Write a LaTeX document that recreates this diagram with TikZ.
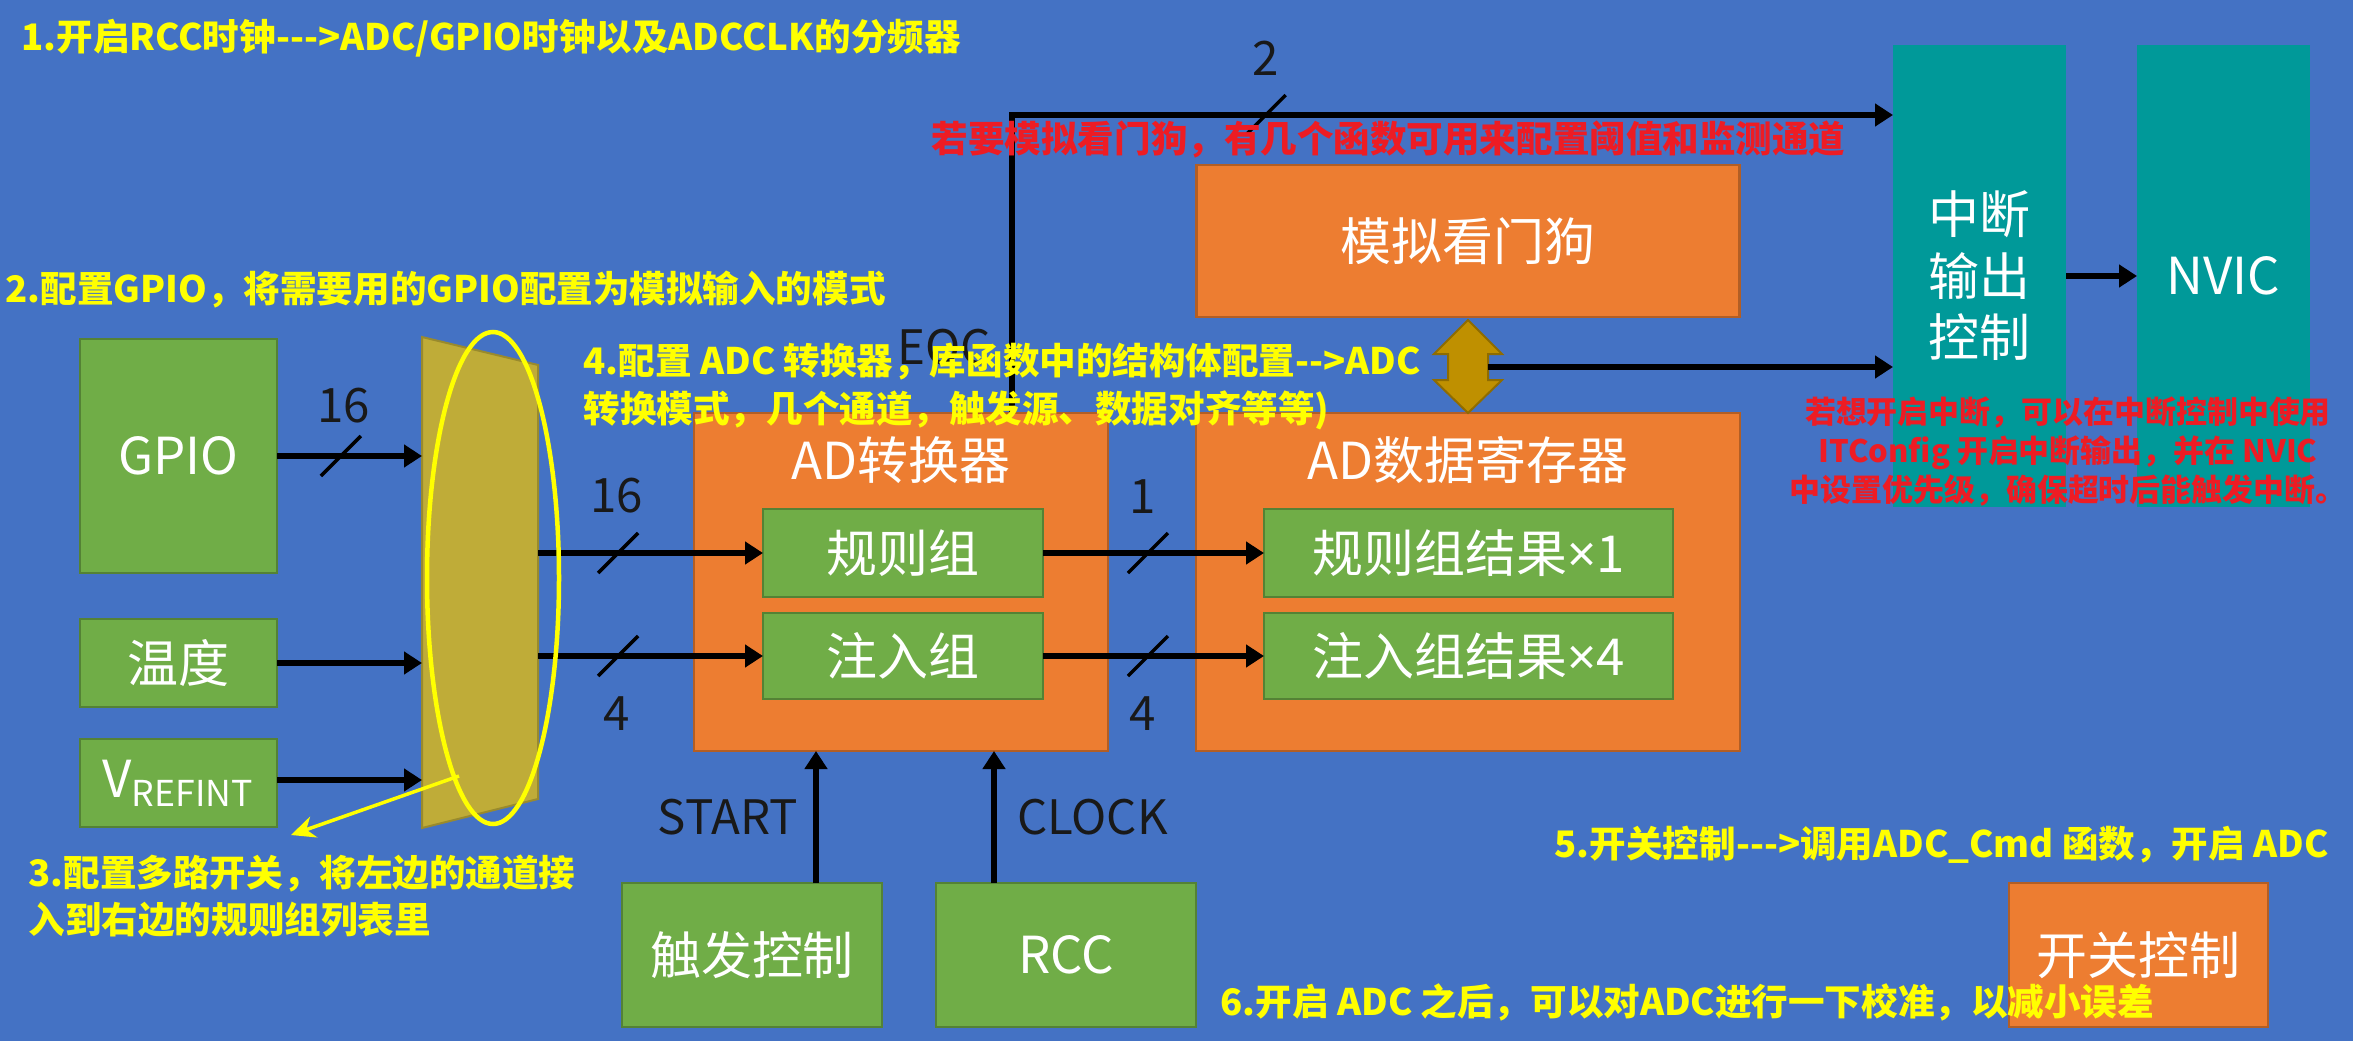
\documentclass[tikz,border=0pt]{standalone}
\usepackage{fontspec}
\newfontfamily\cjk{Noto Sans CJK SC}
\newfontfamily\latin{Noto Sans}
\usetikzlibrary{positioning,arrows.meta}

\definecolor{bgBlue}{RGB}{68,114,196}
\definecolor{boxGreen}{RGB}{112,173,71}
\definecolor{boxOrange}{RGB}{237,125,49}
\definecolor{boxTeal}{RGB}{0,153,153}
\definecolor{muxGold}{RGB}{191,172,56}
\definecolor{linkGold}{RGB}{191,144,0}
\definecolor{noteYellow}{RGB}{255,255,0}
\definecolor{noteRed}{RGB}{237,28,36}

\tikzset{
    block/.style={draw=#1!75!black, fill=#1, line width=0.25mm, text=white, inner sep=0pt, outer sep=0pt,
        align=center, font=\cjk\fontsize{14.5}{17.5}\selectfont},
    caption/.style={inner sep=0pt, text=white, font=\cjk\fontsize{14.5}{17.5}\selectfont},
    sig/.style={line width=0.6mm, -{Triangle[length=1.8mm,width=2.2mm]}},
    busnum/.style={inner sep=0pt, text=black!90, font=\cjk\fontsize{13.5}{16}\selectfont},
    note/.style={inner sep=0pt, anchor=west, align=left, font=\cjk\bfseries\fontsize{10.4}{13.4}\selectfont},
    busmark/.pic={\draw[line width=0.35mm, -] (-2mm,-2mm) -- (2mm,2mm);}
}

\begin{document}
\begin{tikzpicture}[x=0.1mm, y=-0.1mm]
    \useasboundingbox (0,0) rectangle (2353,1041);
    \fill[bgBlue] (0,0) rectangle (2353,1041);

    \node[block=boxGreen, minimum width=19.7mm, minimum height=23.4mm] (gpio) at (178.5,456) {GPIO};
    \node[block=boxGreen, minimum width=19.7mm, minimum height=8.8mm, below=4.6mm of gpio] (temp) {温度};
    \node[block=boxGreen, minimum width=19.7mm, minimum height=8.8mm, below=3.2mm of temp] (vref) {V\textsubscript{REFINT}};

    \coordinate (muxTL) at (422,337);
    \coordinate (muxTR) at (538,365);
    \coordinate (muxBR) at (538,799);
    \coordinate (muxBL) at (422,828);
    \filldraw[fill=muxGold, draw=muxGold!80!black, line width=0.2mm] (muxTL) -- (muxTR) -- (muxBR) -- (muxBL) -- cycle;

    \node[block=boxOrange, minimum width=41.4mm, minimum height=33.8mm] (adc) at (901,582) {};
    \node[caption] (adcTitle) at ([yshift=-4.7mm]adc.north) {AD转换器};
    \node[block=boxGreen, minimum width=28mm, minimum height=8.8mm] (regular) at (903,553) {规则组};
    \node[block=boxGreen, minimum width=28mm, minimum height=8.6mm, below=1.6mm of regular] (injected) {注入组};

    \node[block=boxOrange, minimum width=54.4mm, minimum height=33.8mm, right=8.8mm of adc] (dataReg) {};
    \node[caption] (dataRegTitle) at ([yshift=-4.7mm]dataReg.north) {AD数据寄存器};
    \node[block=boxGreen, minimum width=40.9mm, minimum height=8.8mm] (regRes) at (1468.5,553) {规则组结果{\latin ×}1};
    \node[block=boxGreen, minimum width=40.9mm, minimum height=8.6mm, below=1.6mm of regRes] (injRes) {注入组结果{\latin ×}4};

    \node[block=boxOrange, minimum width=54.3mm, minimum height=15.2mm, above=9.6mm of dataReg] (watchdog) {模拟看门狗};

    \node[block=boxTeal, draw=none, minimum width=17.3mm, minimum height=46.2mm] (itCtrl) at (1979.5,276) {中断\\输出\\控制};
    \node[block=boxTeal, draw=none, minimum width=17.3mm, minimum height=46.2mm, right=7.1mm of itCtrl] (nvic) {NVIC};

    \node[block=boxGreen, minimum width=26mm, minimum height=14.4mm] (trig) at (752,955) {触发控制};
    \node[block=boxGreen, minimum width=26mm, minimum height=14.4mm, right=5.4mm of trig] (rcc) {RCC};
    \node[block=boxOrange, minimum width=25.9mm, minimum height=14.4mm] (switch) at (2138.5,955) {开关控制};

    \filldraw[fill=linkGold, draw=linkGold!75!black, line width=0.2mm] (1468,320) -- (1502,354) -- (1488,354) -- (1488,380)
        -- (1502,380) -- (1468,413) -- (1434,380) -- (1448,380) -- (1448,354) -- (1434,354) -- cycle;
    \coordinate (linkR) at (1488,367);
    \coordinate (eocTop) at (1012,115);

    \draw[sig] (gpio.east) -- pic[pos=0.44]{busmark} node[pos=0.46, above=3mm, busnum]{16} (gpio.east -| muxTL);
    \draw[sig] (temp.east) -- (temp.east -| muxTL);
    \draw[sig] ([yshift=0.3mm]vref.east) -- ([yshift=0.3mm]vref.east -| muxTL);
    \draw[sig] (regular.west -| muxTR) -- pic[pos=0.356]{busmark} node[pos=0.35, above=3.7mm, busnum]{16} (regular.west);
    \draw[sig] (injected.west -| muxTR) -- pic[pos=0.356]{busmark} node[pos=0.35, below=3.8mm, busnum]{4} (injected.west);
    \draw[sig] (regular.east) -- pic[pos=0.475]{busmark} node[pos=0.45, above=3.7mm, busnum]{1} (regRes.west);
    \draw[sig] (injected.east) -- pic[pos=0.475]{busmark} node[pos=0.45, below=3.8mm, busnum]{4} (injRes.west);
    \draw[sig] (adc.north -| eocTop) -- node[pos=0.22, left=1.8mm, busnum]{EOC} (eocTop)
        -- pic[pos=0.288]{busmark} node[pos=0.288, above=3.7mm, busnum]{2} (eocTop -| itCtrl.west);
    \draw[sig] (linkR) -- (linkR -| itCtrl.west);
    \draw[sig] (itCtrl.east) -- (nvic.west);
    \draw[sig] ([xshift=6.4mm]trig.north) -- node[left=1.5mm, busnum]{START} ([xshift=6.4mm]trig.north |- adc.south);
    \draw[sig] ([xshift=-7.2mm]rcc.north) -- node[right=2mm, busnum]{CLOCK} ([xshift=-7.2mm]rcc.north |- adc.south);

    \draw[noteYellow, line width=0.45mm] (493,578) ellipse [x radius=6.6mm, y radius=24.6mm];
    \coordinate (ellTap) at (459,776);
    \coordinate (noteTip) at (291,835);
    \draw[noteYellow, line width=0.35mm, -{Stealth[length=2.4mm,width=2.2mm]}] (ellTap) -- (noteTip);

    \node[note, text=noteYellow] (stepOne) at (21,38) {1.开启RCC时钟--->ADC/GPIO时钟以及ADCCLK的分频器};
    \node[note, text=noteYellow] (stepTwo) at (5,290) {2.配置GPIO，将需要用的GPIO配置为模拟输入的模式};
    \node[note, text=noteYellow] (stepThree) at (28,896.5) {3.配置多路开关，将左边的通道接\\入到右边的规则组列表里};
    \node[note, text=noteYellow] (stepFour) at (583,386.5) {4.配置 ADC 转换器，库函数中的结构体配置-->ADC\\转换模式，几个通道，触发源、数据对齐等等)};
    \node[note, text=noteYellow] (stepFive) at (1554,845) {5.开关控制--->调用ADC\_Cmd 函数，开启 ADC};
    \node[note, text=noteYellow] (stepSix) at (1220,1002) {6.开启 ADC 之后，可以对ADC进行一下校准，以减小误差};
    \node[note, text=noteRed] (awdNote) at (931,140) {若要模拟看门狗，有几个函数可用来配置阈值和监测通道};
    \node[note, text=noteRed, anchor=center, align=center, font=\cjk\bfseries\fontsize{8.8}{11.1}\selectfont] (itNote) at (2068,452)
        {若想开启中断，可以在中断控制中使用\\ITConfig 开启中断输出，并在 NVIC\\中设置优先级，确保超时后能触发中断。};
\end{tikzpicture}
\end{document}
